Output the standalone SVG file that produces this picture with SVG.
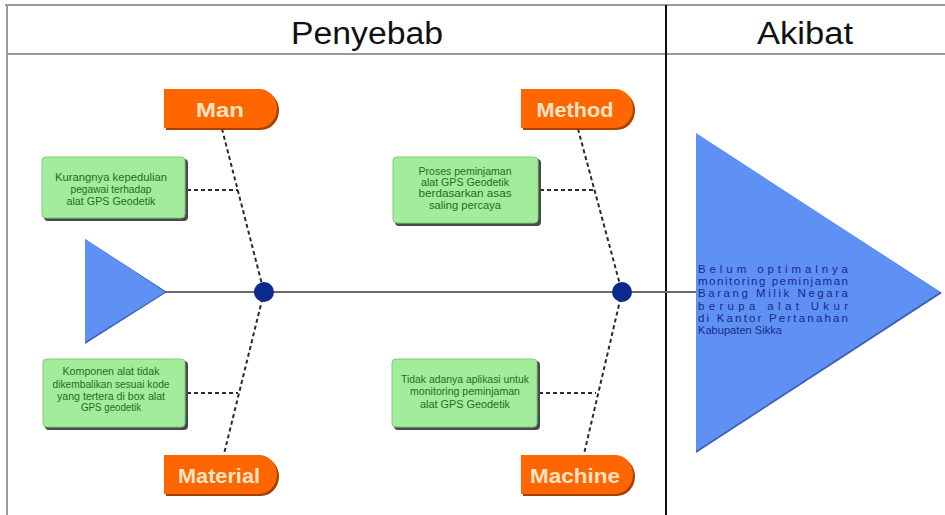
<svg xmlns="http://www.w3.org/2000/svg" width="945" height="515" viewBox="0 0 945 515">
<defs>
<style>
.frame{stroke:#9a9a9a;stroke-width:2;fill:none}
.hdr{font-family:"Liberation Sans",Arial,sans-serif;font-size:31px;fill:#111}
.lbl{font-family:"Liberation Sans",Arial,sans-serif;font-size:21px;font-weight:bold;fill:#fde4c4;text-anchor:middle}
.tag{fill:#ff6600}
.tagsh{fill:#a84000}
.box{fill:#a2ec9c;stroke:#7ccf78;stroke-width:1}
.boxsh{fill:#4a4a4a}
.bt{font-family:"Liberation Sans",Arial,sans-serif;font-size:10px;fill:#1f6e1f;text-anchor:middle}
.et{font-family:"Liberation Sans",Arial,sans-serif;font-size:11.5px;fill:#1a2a86}
.dash{stroke:#2a2a2a;stroke-width:2;stroke-dasharray:4 3;fill:none}
.spine{stroke:#6a6a6a;stroke-width:2;fill:none}
.dot{fill:#0b2a8e}
.tri{fill:#5f90f4}
</style>
</defs>
<g id="frame">
<line class="frame" x1="5" y1="5" x2="945" y2="5"/>
<line class="frame" x1="7" y1="54" x2="945" y2="54"/>
<line class="frame" x1="7" y1="5" x2="7" y2="515"/>
<line x1="666" y1="5" x2="666" y2="515" stroke="#111" stroke-width="2"/>
<text class="hdr" x="291" y="44" textLength="152" lengthAdjust="spacingAndGlyphs">Penyebab</text>
<text class="hdr" x="757" y="44" textLength="96" lengthAdjust="spacingAndGlyphs">Akibat</text>
</g>
<g id="connectors">
<line class="spine" x1="160" y1="292" x2="697" y2="292"/>
<polyline class="dash" points="222,129 264,292 224,454"/>
<polyline class="dash" points="578,129 622,292 584,454"/>
<line class="dash" x1="187" y1="190" x2="238" y2="190"/>
<line class="dash" x1="540" y1="190" x2="593" y2="190"/>
<line class="dash" x1="187" y1="393" x2="238" y2="393"/>
<line class="dash" x1="539" y1="393" x2="596" y2="393"/>
</g>
<g id="tail">
<polygon points="85,239 85,344 167,292" fill="#3c5fb0"/>
<polygon class="tri" points="85,239 85,342 165,292"/>
</g>
<g id="dot-left"><circle class="dot" cx="264" cy="292" r="10"/></g>
<g id="dot-right"><circle class="dot" cx="622" cy="292" r="10"/></g>
<g id="man">
<path class="tagsh" d="M166,91 H261 A18,19.5 0 0 1 261,130 H166 Z"/>
<path class="tag" d="M164,89 H259 A18,19.5 0 0 1 259,128 H164 Z"/>
<text class="lbl" x="220" y="117" textLength="48" lengthAdjust="spacingAndGlyphs">Man</text>
</g>
<g id="method">
<path class="tagsh" d="M523,91 H617 A18,19.5 0 0 1 617,130 H523 Z"/>
<path class="tag" d="M521,89 H615 A18,19.5 0 0 1 615,128 H521 Z"/>
<text class="lbl" x="575" y="117" textLength="77" lengthAdjust="spacingAndGlyphs">Method</text>
</g>
<g id="material">
<path class="tagsh" d="M166,457 H261 A18,19.5 0 0 1 261,496 H166 Z"/>
<path class="tag" d="M164,455 H259 A18,19.5 0 0 1 259,494 H164 Z"/>
<text class="lbl" x="219" y="483" textLength="82" lengthAdjust="spacingAndGlyphs">Material</text>
</g>
<g id="machine">
<path class="tagsh" d="M523,457 H617 A18,19.5 0 0 1 617,496 H523 Z"/>
<path class="tag" d="M521,455 H615 A18,19.5 0 0 1 615,494 H521 Z"/>
<text class="lbl" x="575" y="483" textLength="90" lengthAdjust="spacingAndGlyphs">Machine</text>
</g>
<g id="cause-man">
<rect class="boxsh" x="44" y="159" width="144" height="62" rx="4"/>
<rect class="box" x="42" y="157" width="143" height="61" rx="4"/>
<text class="bt" x="111" y="181" textLength="112" lengthAdjust="spacingAndGlyphs">Kurangnya kepedulian</text>
<text class="bt" x="111" y="193" textLength="81" lengthAdjust="spacingAndGlyphs">pegawai terhadap</text>
<text class="bt" x="111" y="205" textLength="89" lengthAdjust="spacingAndGlyphs">alat GPS Geodetik</text>
</g>
<g id="cause-method">
<rect class="boxsh" x="395" y="159" width="146" height="67" rx="4"/>
<rect class="box" x="393" y="157" width="145" height="66" rx="4"/>
<text class="bt" x="465" y="175" textLength="93" lengthAdjust="spacingAndGlyphs">Proses peminjaman</text>
<text class="bt" x="465" y="186" textLength="88" lengthAdjust="spacingAndGlyphs">alat GPS Geodetik</text>
<text class="bt" x="465" y="197" textLength="93" lengthAdjust="spacingAndGlyphs">berdasarkan asas</text>
<text class="bt" x="465" y="209" textLength="72" lengthAdjust="spacingAndGlyphs">saling percaya</text>
</g>
<g id="cause-material">
<rect class="boxsh" x="45" y="361" width="143" height="69" rx="4"/>
<rect class="box" x="43" y="359" width="142" height="68" rx="4"/>
<text class="bt" x="111" y="375" textLength="97" lengthAdjust="spacingAndGlyphs">Komponen alat tidak</text>
<text class="bt" x="111" y="388" textLength="117" lengthAdjust="spacingAndGlyphs">dikembalikan sesuai kode</text>
<text class="bt" x="111" y="400" textLength="108" lengthAdjust="spacingAndGlyphs">yang tertera di box alat</text>
<text class="bt" x="111" y="411" textLength="60" lengthAdjust="spacingAndGlyphs">GPS geodetik</text>
</g>
<g id="cause-machine">
<rect class="boxsh" x="394" y="361" width="146" height="69" rx="4"/>
<rect class="box" x="392" y="359" width="145" height="68" rx="4"/>
<text class="bt" x="465" y="383" textLength="128" lengthAdjust="spacingAndGlyphs">Tidak adanya aplikasi untuk</text>
<text class="bt" x="465" y="395" textLength="110" lengthAdjust="spacingAndGlyphs">monitoring peminjaman</text>
<text class="bt" x="465" y="408" textLength="90" lengthAdjust="spacingAndGlyphs">alat GPS Geodetik</text>
</g>
<g id="effect">
<polygon points="696,134 696,453 942,293" fill="#3c5fb0"/>
<polygon class="tri" points="696,133 696,451 940,292"/>
<text class="et" x="698" y="273" textLength="150" lengthAdjust="spacing">Belum optimalnya</text>
<text class="et" x="698" y="285" textLength="150" lengthAdjust="spacing">monitoring peminjaman</text>
<text class="et" x="698" y="297" textLength="150" lengthAdjust="spacing">Barang Milik Negara</text>
<text class="et" x="698" y="310" textLength="150" lengthAdjust="spacing">berupa alat Ukur</text>
<text class="et" x="698" y="322" textLength="150" lengthAdjust="spacing">di Kantor Pertanahan</text>
<text class="et" x="698" y="334" textLength="84" lengthAdjust="spacingAndGlyphs">Kabupaten Sikka</text>
</g>
</svg>
